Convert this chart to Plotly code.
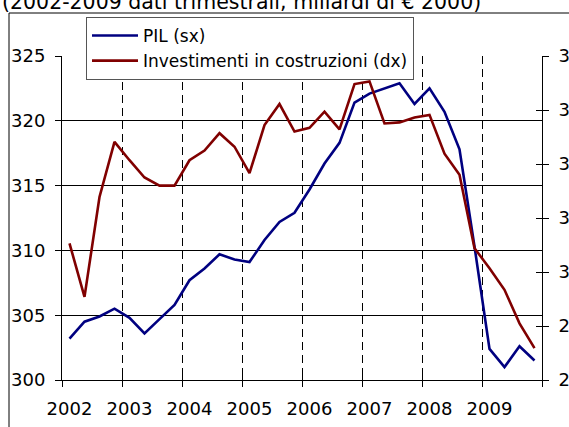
import plotly.graph_objects as go

quarters = [
    "2002T1", "2002T2", "2002T3", "2002T4",
    "2003T1", "2003T2", "2003T3", "2003T4",
    "2004T1", "2004T2", "2004T3", "2004T4",
    "2005T1", "2005T2", "2005T3", "2005T4",
    "2006T1", "2006T2", "2006T3", "2006T4",
    "2007T1", "2007T2", "2007T3", "2007T4",
    "2008T1", "2008T2", "2008T3", "2008T4",
    "2009T1", "2009T2", "2009T3", "2009T4",
]
year_labels = ["2002", "2003", "2004", "2005", "2006", "2007", "2008", "2009"]

pil = [303.2, 304.5, 304.9, 305.5, 304.8, 303.6, 304.7, 305.8,
       307.7, 308.6, 309.7, 309.3, 309.1, 310.8, 312.2, 312.9,
       314.7, 316.7, 318.3, 321.4, 322.1, 322.5, 322.9, 321.3,
       322.5, 320.7, 317.8, 310.3, 302.4, 301.0, 302.6, 301.5]

investimenti = [30.53, 29.54, 31.39, 32.41, 32.07, 31.75, 31.60, 31.60,
                32.07, 32.25, 32.57, 32.32, 31.83, 32.72, 33.11, 32.60,
                32.67, 32.97, 32.64, 33.48, 33.53, 32.75, 32.77, 32.86,
                32.91, 32.19, 31.80, 30.44, 30.07, 29.67, 29.05, 28.59]

left_ticks = [300, 305, 310, 315, 320, 325]
right_ticks = [28, 29, 30, 31, 32, 33, 34]
year_bounds = [-0.5, 3.5, 7.5, 11.5, 15.5, 19.5, 23.5, 27.5, 31.5]

title_text = "(2002-2009 dati trimestrali; miliardi di € 2000)"

FONT = "DejaVu Sans"
FS = 18
LFS = 17
TFS = 20.5

fig = go.Figure()
# empty helper traces so the overlay axes (crossing ticks, dashed year grid) are drawn
for xa, ya in [("x2", "y"), ("x3", "y"), ("x", "y3"), ("x", "y4")]:
    fig.add_trace(go.Scatter(x=[], y=[], xaxis=xa, yaxis=ya, showlegend=False,
                             hoverinfo="skip"))
fig.add_trace(go.Scatter(x=quarters, y=pil, mode="lines", name="PIL (sx)",
                         line=dict(color="#000080", width=2.6), xaxis="x", yaxis="y"))
fig.add_trace(go.Scatter(x=quarters, y=investimenti, mode="lines",
                         name="Investimenti in costruzioni (dx)",
                         line=dict(color="#800000", width=2.6), xaxis="x", yaxis="y2"))

axis_common = dict(linecolor="black", linewidth=1, tickcolor="black", tickwidth=1,
                   tickfont=dict(family=FONT, size=FS, color="black"))

fig.update_layout(
    width=569, height=427,
    margin=dict(l=62, r=27, t=56, b=47, autoexpand=False),
    paper_bgcolor="white", plot_bgcolor="white",
    font=dict(family=FONT, size=FS, color="black"),
    showlegend=True,
    legend=dict(x=(86 - 62) / 480, y=(380 - 17) / 324, xanchor="left", yanchor="top",
                bgcolor="white", bordercolor="#555555", borderwidth=1,
                font=dict(family=FONT, size=LFS, color="black"),
                itemwidth=46, tracegroupgap=0),
    xaxis=dict(type="category", categoryorder="array", categoryarray=quarters,
               range=[-0.5, 31.5], showline=True, ticks="", showgrid=False,
               tickmode="array", tickvals=quarters[::4], ticktext=year_labels,
               ticklabelstandoff=12, zeroline=False, **axis_common),
    xaxis2=dict(overlaying="x", anchor="y", side="bottom", range=[-0.5, 31.5],
                tickmode="array", tickvals=year_bounds, ticks="inside", ticklen=6,
                showticklabels=False, showgrid=True, gridcolor="black", gridwidth=1,
                griddash="8px,5px", showline=False, zeroline=False,
                tickcolor="black"),
    xaxis3=dict(overlaying="x", anchor="y", side="bottom", range=[-0.5, 31.5],
                tickmode="array", tickvals=year_bounds, ticks="outside", ticklen=6,
                showticklabels=False, showgrid=False, showline=False, zeroline=False,
                tickcolor="black"),
    yaxis=dict(range=[300, 325], tickmode="array", tickvals=left_ticks,
               showline=True, ticks="outside", ticklen=6, showgrid=True,
               gridcolor="black", gridwidth=1, zeroline=False,
               ticklabelstandoff=6, **axis_common),
    yaxis2=dict(range=[28, 34], tickmode="array", tickvals=right_ticks,
                overlaying="y", side="right", anchor="x", showline=True,
                ticks="outside", ticklen=6, showgrid=False, zeroline=False,
                ticklabelstandoff=6, **axis_common),
    yaxis3=dict(range=[300, 325], tickmode="array", tickvals=left_ticks,
                overlaying="y", side="left", anchor="x", ticks="inside", ticklen=6,
                showticklabels=False, showgrid=False, showline=False, zeroline=False,
                tickcolor="black"),
    yaxis4=dict(range=[28, 34], tickmode="array", tickvals=right_ticks,
                overlaying="y", side="right", anchor="x", ticks="inside", ticklen=6,
                showticklabels=False, showgrid=False, showline=False, zeroline=False,
                tickcolor="black"),
    shapes=[dict(type="rect", xref="paper", yref="paper",
                 x0=(9 - 62) / 480, x1=1.2, y0=-0.3, y1=(380 - 13) / 324,
                 line=dict(color="black", width=1), fillcolor="rgba(0,0,0,0)",
                 layer="below")],
    annotations=[dict(text=title_text, xref="paper", yref="paper",
                      x=(0 - 62) / 480, y=(380 - 16) / 324, xanchor="left",
                      yanchor="bottom", showarrow=False,
                      font=dict(family=FONT, size=TFS, color="black"))],
)

fig.write_html("out.html", config={"displayModeBar": False},
               post_script="document.body.style.margin='0';document.body.style.overflow='hidden';")
